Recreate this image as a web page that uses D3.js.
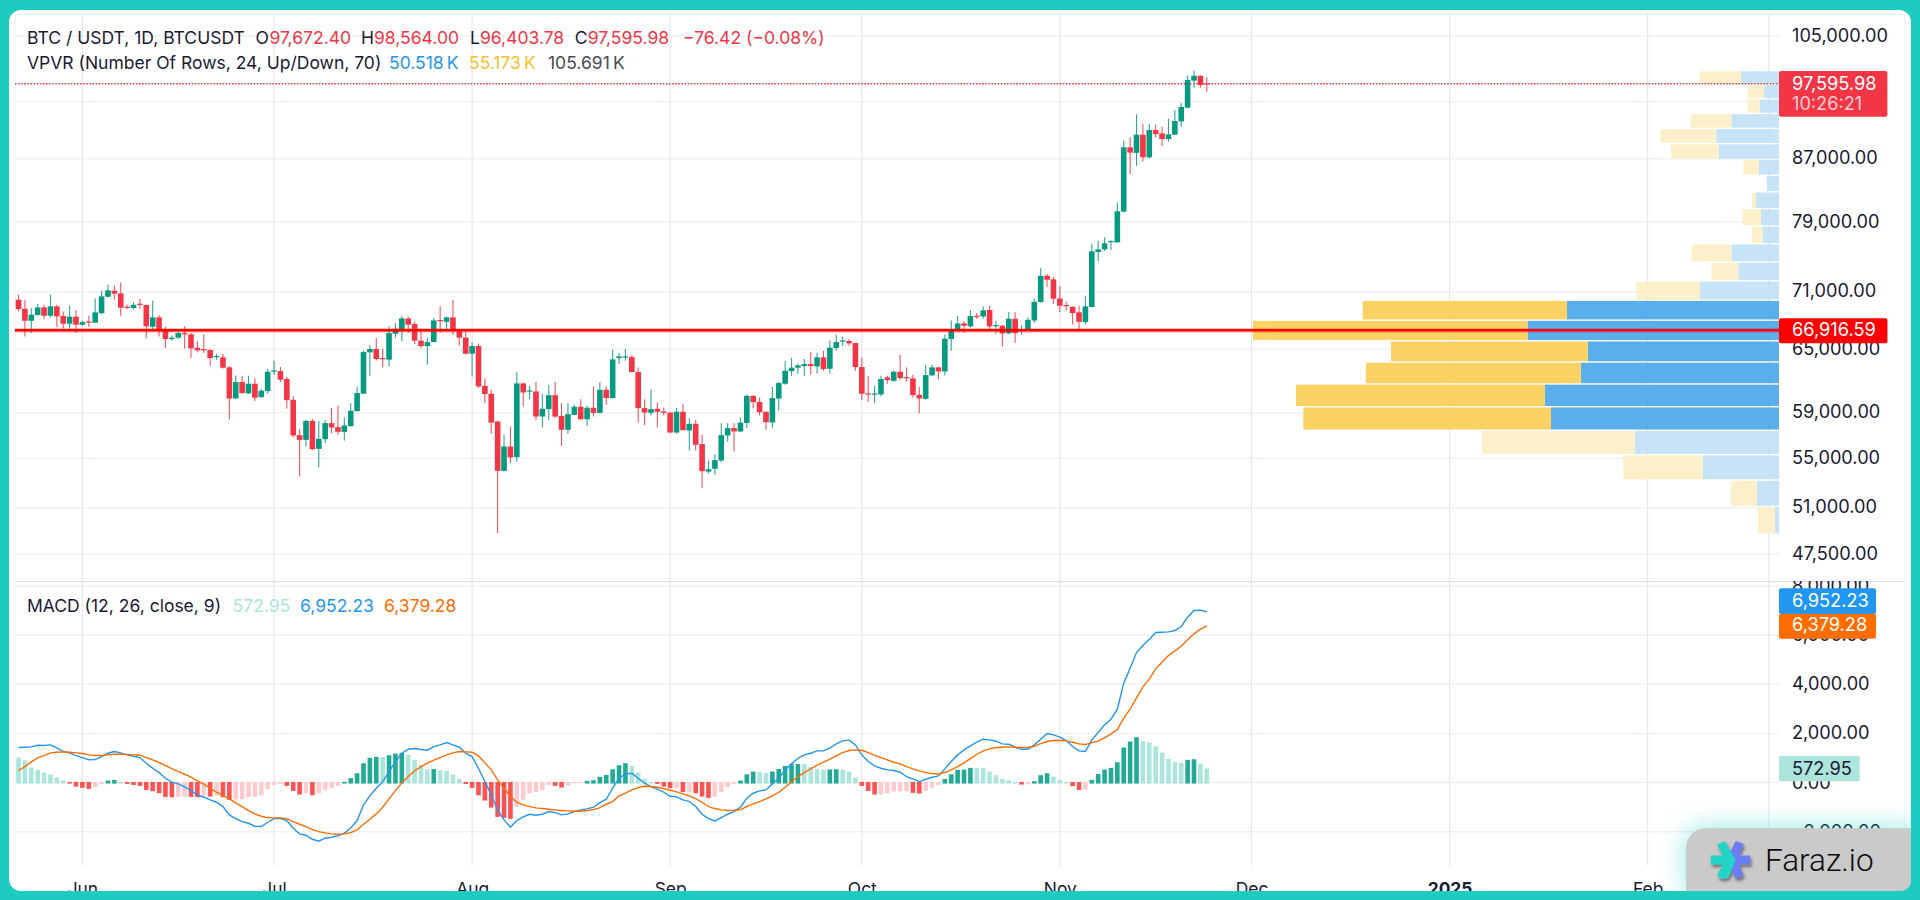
<!DOCTYPE html>
<html><head><meta charset="utf-8">
<style>
html,body{margin:0;padding:0;background:#fff;overflow:hidden}
svg{display:block;font-family:Inter,"Noto Sans",sans-serif}
</style>
<script src="https://cdn.jsdelivr.net/npm/d3@7/dist/d3.min.js"></script>
</head><body><div id="c"></div>
<script>
// ---------- data: daily BTCUSDT candles, 22 May 2024 to 24 Nov 2024 ----------
const firstDay = "2024-05-22";
const open = [70130,69170,67910,68500,69310,68430,69420,68400,67600,68330,67500,67840,67700,68710,70450,71100,70810,69380,69240,69700,69560,67290,68260,66950,66030,66170,66640,66510,65160,65030,64930,64240,64210,63230,60290,61830,60760,61670,60420,60980,62840,62870,62110,60170,57000,56590,58260,55820,56650,58060,57700,57290,57790,59140,60730,64700,65030,64140,63980,66570,67050,68150,67570,65870,65330,65730,67980,67800,68260,66880,66170,64570,65330,61470,60730,58200,53970,56020,55110,61700,60950,60950,58650,59320,60600,58710,57470,58800,59530,58410,59440,58980,61100,60330,64140,64210,64240,62780,59410,58980,59350,59110,59010,57230,59080,57410,58000,56220,53910,54140,54830,56970,57620,57320,58080,60540,59980,59080,58110,60290,61670,62870,63200,63360,63550,63320,64210,63100,65130,65800,65830,65630,63260,60760,60700,60670,62270,61950,62810,62300,62170,60630,60260,62460,63230,62840,66030,67020,67630,67330,68430,68360,69030,67360,67390,66610,68120,66880,66950,67940,69880,72750,72350,70270,69560,69380,68790,67770,69350,75445,75750,76610,76570,80250,88550,87800,90280,87210,90930,90460,89690,90280,92140,94090,98070,98800,97672.40];
const high = [70670,70130,69240,69660,69590,70670,69590,68890,69490,69000,67910,68430,70270,71070,71760,71680,72010,69630,69880,70240,69630,70020,68470,67290,66400,66850,67330,66640,65800,66510,65030,64570,64530,63360,62460,62430,62430,62200,61190,63100,63880,63260,62300,60510,57530,58350,58440,58260,58350,59440,59650,58560,59860,61410,64860,65430,66130,65060,67330,67670,68400,68360,67800,67090,66200,68190,69420,68360,70130,66980,66810,65700,65570,62170,61100,58290,57030,57760,62750,61790,61470,61830,60730,61540,61830,59860,59860,59710,60230,59620,61410,61830,61410,64960,64630,65030,64430,63230,60230,61130,59920,59470,59040,59440,59770,58500,58350,57030,54830,55340,58060,58060,58060,58590,60670,60600,60390,59110,61350,61830,63880,64170,63620,64040,64730,64660,64860,65870,66470,66300,66030,65670,64170,62430,61470,62430,62430,62940,64470,63230,62520,61350,63490,63520,63290,66470,67940,68400,67910,69030,68710,69420,69490,67910,67500,68820,68790,67460,68260,70270,73610,72940,72610,71610,69950,69420,69490,70560,76380,76770,77160,76770,81400,89470,89920,93140,91730,91780,91680,91400,92520,93720,94720,98880,99560,98880,98564.00];
const low = [68890,66300,66640,68470,68080,68260,67260,67120,67090,66640,67390,67260,67670,68570,70380,70130,68430,69140,69100,69170,66100,67050,66300,65100,65870,66070,65060,64140,64700,64630,63390,63980,63130,58380,60260,60730,60700,60050,60360,60730,62520,61830,59380,56790,53510,56020,55710,54270,56310,57170,57030,56540,57760,59110,60700,62430,63910,63230,63320,66200,65800,66640,65500,65130,63490,65700,66710,66980,66470,65360,64500,62360,61260,59860,57120,49050,53940,54610,54750,59560,60230,58290,57670,58350,58500,56080,57120,58770,58350,57820,58650,58920,59710,60290,63550,63880,62750,58090,57880,58740,57670,58740,57200,57140,57410,55650,55680,52560,53750,53640,54690,56420,55590,57290,57620,59380,58740,57470,57620,59170,61570,62400,62620,62430,62550,62650,62900,62650,64860,65360,65360,62900,60170,59980,59860,60480,61670,61860,62050,61860,60360,58950,60170,62430,62080,62460,64860,66810,66670,67190,68080,68120,67050,66570,65260,66540,65630,66440,66880,67670,69840,71500,69700,68790,69000,67530,66980,67530,69310,74400,75560,75670,76530,80170,85010,86060,86640,87040,89920,88690,89330,90240,91400,94000,97020,97020,96403.78];
const close = [69140,67910,68540,69310,68430,69420,68360,67600,68330,67500,67770,67740,68790,70490,71140,70780,69280,69280,69590,69590,67330,68260,66980,66030,66170,66640,66510,65100,64900,64930,64140,64340,63200,60290,61830,60790,61670,60360,61010,62810,62940,62050,60140,56970,56590,58260,55790,56680,58060,57670,57290,57850,59170,60790,64730,65030,64040,64040,66640,67090,68150,67500,65870,65330,65730,67940,67870,68260,66850,66170,64570,65330,61410,60700,58110,53970,56020,55090,61700,60850,61040,58650,59350,60600,58650,57470,58860,59530,58410,59440,58980,61100,60330,64010,64300,64300,62780,59410,59010,59320,59080,58980,57230,59080,57440,58000,56170,53940,54110,54860,57000,57620,57320,58110,60540,59950,59040,58140,60330,61730,62900,63200,63420,63550,63360,64210,63070,65160,65730,65900,65600,63260,60730,60670,60760,62110,62010,62810,62200,62200,60600,60290,62490,63230,62840,66070,67050,67630,67390,68400,68330,69000,67330,67460,66610,68120,66640,66980,68010,69910,72750,72310,70240,69490,69450,68710,67800,69420,75520,75750,76450,76730,80290,88550,87840,90280,87210,90930,90370,89690,90330,92190,94190,98170,98800,97410,97595.98];

// MACD pane, same days
const macdLine = [1425,1438,1452,1520,1506,1533,1411,1262,1208,1099,1018,923,936,1058,1194,1262,1208,1126,1072,1018,787,584,407,176,14,-54,-176,-326,-502,-597,-706,-801,-977,-1316,-1466,-1588,-1656,-1778,-1791,-1615,-1466,-1452,-1547,-1859,-2090,-2144,-2307,-2388,-2266,-2225,-2171,-2063,-1846,-1547,-909,-543,-231,27,448,855,1194,1357,1384,1343,1316,1466,1533,1628,1533,1438,1194,1058,584,41,-502,-1113,-1520,-1818,-1547,-1398,-1289,-1330,-1289,-1181,-1221,-1316,-1276,-1181,-1113,-1072,-1004,-814,-679,-231,176,353,380,176,-27,-163,-271,-394,-556,-584,-706,-773,-977,-1289,-1466,-1561,-1425,-1289,-1181,-1004,-638,-434,-339,-299,-54,176,516,760,991,1126,1194,1289,1289,1398,1574,1696,1737,1533,1126,855,679,584,516,489,421,244,149,41,136,217,271,556,855,1126,1330,1493,1642,1764,1737,1683,1574,1561,1438,1357,1357,1533,1764,1995,1941,1846,1710,1466,1289,1262,1737,2036,2348,2578,2985,4044,4655,5292,5577,5835,6107,6120,6134,6188,6351,6731,7002,7016,6952.23];
const signalLine = [489,651,841,1004,1099,1208,1235,1248,1235,1208,1181,1126,1099,1099,1126,1153,1153,1140,1126,1113,1018,923,814,692,570,448,339,217,68,-68,-231,-394,-529,-665,-828,-977,-1140,-1276,-1371,-1425,-1438,-1438,-1466,-1588,-1696,-1791,-1913,-1995,-2049,-2090,-2103,-2090,-2036,-1927,-1696,-1493,-1276,-1004,-665,-326,-14,244,475,651,787,909,1018,1126,1208,1262,1248,1235,1086,801,516,109,-231,-570,-801,-909,-977,-1031,-1058,-1086,-1113,-1140,-1153,-1167,-1167,-1140,-1099,-1018,-882,-773,-543,-434,-299,-204,-149,-163,-190,-244,-312,-380,-461,-543,-651,-801,-977,-1058,-1113,-1140,-1126,-1099,-977,-868,-773,-665,-543,-394,-190,27,244,407,556,706,828,950,1086,1221,1303,1330,1316,1221,1113,1018,923,828,760,651,556,475,407,366,353,407,516,651,801,977,1153,1289,1371,1425,1438,1452,1438,1425,1425,1479,1588,1669,1710,1723,1696,1642,1574,1547,1628,1683,1818,1981,2158,2619,2985,3447,3895,4207,4627,4899,5170,5360,5550,5808,6052,6242,6379.28];
const histogram = [1018,909,611,516,407,326,204,81,-40,-163,-217,-258,-190,-54,81,109,27,-54,-95,-136,-299,-353,-434,-584,-597,-584,-570,-584,-597,-543,-570,-543,-597,-706,-692,-680,-597,-584,-530,-271,-109,-68,-136,-339,-489,-434,-516,-434,-299,-231,-136,27,176,380,787,1004,1045,1040,1113,1181,1208,1126,923,719,543,550,502,475,326,149,-54,-217,-516,-733,-1018,-1398,-1438,-1479,-991,-706,-434,-380,-299,-109,-136,-204,-122,-27,-20,68,95,231,312,543,706,787,679,407,149,27,-54,-163,-231,-220,-385,-375,-434,-570,-624,-570,-380,-190,-54,81,339,448,440,380,448,556,679,746,752,746,638,556,529,535,540,516,448,204,-136,-339,-489,-482,-434,-366,-360,-353,-421,-448,-339,-217,-95,149,339,516,529,597,590,585,448,299,149,95,27,-81,-75,54,299,380,244,109,27,-149,-299,-290,109,353,529,597,828,1425,1669,1846,1683,1628,1479,1221,963,828,800,923,950,773,572.95];

// Volume profile rows, top to bottom, thousands of BTC
const vpHigh = 99588, vpLow = 49000;
const vpUp =   [7.66,3.05,3.92,9.58,12.62,12.12,4.02,2.43,4.70,3.66,3.32,9.58,8.18,15.87,42.6,50.518,38.42,39.82,47.04,45.81,28.93,15.27,4.42,0.80];
const vpDown = [8.28,3.30,2.43,8.10,11.17,9.58,3.11,0,0.72,3.66,2.11,8.02,5.40,12.78,41.05,55.173,39.54,43.2,50.01,49.77,30.74,16.01,5.24,3.46];
const vpValueArea = [14,15,16,17,18,19];

const priceTicks = [105000,95000,87000,79000,71000,65000,59000,55000,51000,47500];
const macdTicks = [8000,6000,4000,2000,0,-2000];
const timeTicks = ["2024-06-01","2024-07-01","2024-08-01","2024-09-01","2024-10-01","2024-11-01","2024-12-01","2025-01-01","2025-02-01"];
const timeLabels = ["Jun","Jul","Aug","Sep","Oct","Nov","Dec","2025","Feb"];
const extraGridDays = ["2025-02-20"];
const lastPrice = 97595.98, lastMacd = 6952.23, lastSignal = 6379.28, lastHist = 572.95, levelPrice = 66916.59;
const volMax = 105.691;

// ---------- colours ----------
const GREEN="#089981", RED="#f23645", INK="#1a1a33", GRID_H="#f0f1f5", GRID_V="#e6e7ec", TEAL="#1dcbc1";
const AXIS_FONT=18.2, LEG_FONT=17.5;

// ---------- scales ----------
const W=1920,H=900, axisX=1779, paneL=15, paneR=1905;
const parse=d3.utcParse("%Y-%m-%d");
const x=d3.scaleUtc().domain([parse("2024-06-01"),parse("2025-02-01")]).range([82.4,1647.6]);
const y=d3.scaleLog().domain([105000,47500]).range([36,554.3]);
const y2=d3.scaleLinear().domain([8000,-2000]).range([586,831.7]);
const vx=d3.scaleLinear().domain([0,volMax]).range([axisX,1253]);
const days=open.map((_,i)=>d3.utcDay.offset(parse(firstDay),i));
const fmt=d3.format(",.2f");

const svg=d3.select("#c").append("svg").attr("width",W).attr("height",H).attr("viewBox",`0 0 ${W} ${H}`);
const defs=svg.append("defs");
defs.append("filter").attr("id","glow").attr("x","-30%").attr("y","-80%").attr("width","160%").attr("height","260%")
  .append("feGaussianBlur").attr("stdDeviation",13);
defs.append("filter").attr("id","ls").attr("x","-30%").attr("y","-30%").attr("width","170%").attr("height","170%")
  .append("feDropShadow").attr("dx",1.5).attr("dy",2.5).attr("stdDeviation",1.6).attr("flood-color","#000").attr("flood-opacity",.45);

svg.append("rect").attr("width",W).attr("height",H).attr("fill","#fff");

// pane borders
const borders=svg.append("g").attr("stroke","#f1f3f8").attr("stroke-width",1.2);
borders.append("line").attr("x1",paneL).attr("x2",paneL).attr("y1",14).attr("y2",891);
borders.append("line").attr("x1",paneR).attr("x2",paneR).attr("y1",14).attr("y2",891);
borders.append("line").attr("x1",paneL).attr("x2",paneR).attr("y1",14.3).attr("y2",14.3);

// grid
const g=svg.append("g");
g.selectAll(".hp").data(priceTicks).join("line").attr("class","hp").attr("x1",paneL).attr("x2",axisX).attr("y1",d=>y(d)).attr("y2",d=>y(d)).attr("stroke",GRID_H).attr("stroke-width",1.5);
g.selectAll(".hm").data(macdTicks).join("line").attr("class","hm").attr("x1",paneL).attr("x2",axisX).attr("y1",d=>y2(d)).attr("y2",d=>y2(d)).attr("stroke",GRID_H).attr("stroke-width",1.5);
g.selectAll(".v").data(timeTicks.concat(extraGridDays)).join("line").attr("class","v").attr("x1",d=>x(parse(d))).attr("x2",d=>x(parse(d))).attr("y1",14).attr("y2",865.5).attr("stroke",GRID_V).attr("stroke-width",1.2);
g.append("line").attr("x1",paneL).attr("x2",paneR).attr("y1",581.7).attr("y2",581.7).attr("stroke","#dfe1ea").attr("stroke-width",1.2);

// axes (drawn under the tags)
defs.append("clipPath").attr("id","macdClip").append("rect").attr("x",0).attr("y",581).attr("width",140).attr("height",320);
const yAxis=svg.append("g").attr("transform",`translate(${axisX},0)`)
  .call(d3.axisRight(y).tickValues(priceTicks).tickFormat(fmt).tickSize(0).tickPadding(13));
const y2Axis=svg.append("g").attr("transform",`translate(${axisX},0)`).attr("clip-path","url(#macdClip)")
  .call(d3.axisRight(y2).tickValues(macdTicks).tickFormat(fmt).tickSize(0).tickPadding(13));
const xAxis=svg.append("g").attr("transform","translate(0,894.5)")
  .call(d3.axisBottom(x).tickValues(timeTicks.map(parse)).tickFormat((d,i)=>timeLabels[i]).tickSize(0));
[yAxis,y2Axis,xAxis].forEach(a=>{a.select(".domain").remove();
  a.selectAll("text").attr("font-family","Inter,'Noto Sans',sans-serif").attr("font-size",AXIS_FONT).attr("fill",INK);});
yAxis.selectAll("text").attr("dy","0.28em");
y2Axis.selectAll("text").attr("dy","0.3em");
xAxis.selectAll("text").attr("font-size",17.4).attr("y",0).attr("dy",0).attr("font-weight",(d,i)=>timeLabels[i]==="2025"?700:400);

// volume profile
const vpStep=(vpHigh-vpLow)/vpUp.length;
const vpRows=vpUp.map((u,i)=>({u,d:vpDown[i],va:vpValueArea.includes(i),top:vpHigh-i*vpStep,bot:vpHigh-(i+1)*vpStep}));
const vp=svg.append("g").attr("opacity",.93);
vp.selectAll(".up").data(vpRows).join("rect").attr("class","up").attr("x",d=>vx(d.u)).attr("width",d=>axisX-vx(d.u))
  .attr("y",d=>y(d.top)+.7).attr("height",d=>y(d.bot)-y(d.top)-1.4).attr("fill",d=>d.va?"#4ea8e9":"#c3e2f7");
vp.selectAll(".dn").data(vpRows).join("rect").attr("class","dn").attr("x",d=>vx(d.u+d.d)).attr("width",d=>vx(d.u)-vx(d.u+d.d))
  .attr("y",d=>y(d.top)+.7).attr("height",d=>y(d.bot)-y(d.top)-1.4).attr("fill",d=>d.va?"#facf59":"#fdeec5");

// last price dotted line
svg.append("line").attr("x1",paneL).attr("x2",axisX).attr("y1",y(lastPrice)).attr("y2",y(lastPrice))
  .attr("stroke",RED).attr("stroke-width",1.5).attr("stroke-dasharray","1.5 1.6");

// candles
defs.append("clipPath").attr("id","pane").append("rect").attr("x",paneL).attr("y",14).attr("width",axisX-paneL).attr("height",852);
const cs=open.map((o,i)=>({o,h:high[i],l:low[i],c:close[i],m:macdLine[i],s:signalLine[i],v:histogram[i],day:days[i],prev:i?histogram[i-1]:Infinity}));
const colorOf=d=>d.c>=d.o?GREEN:RED;
const candles=svg.append("g").attr("clip-path","url(#pane)");
candles.selectAll(".w").data(cs).join("line").attr("class","w").attr("x1",d=>x(d.day)).attr("x2",d=>x(d.day))
  .attr("y1",d=>y(d.h)).attr("y2",d=>y(d.l)).attr("stroke",colorOf).attr("stroke-width",1.1).attr("stroke-opacity",.85);
candles.selectAll(".b").data(cs).join("rect").attr("class","b").attr("x",d=>x(d.day)-2.8).attr("width",5.6)
  .attr("y",d=>y(Math.max(d.o,d.c))).attr("height",d=>Math.max(1.2,y(Math.min(d.o,d.c))-y(Math.max(d.o,d.c)))).attr("fill",colorOf);

// red level line
svg.append("line").attr("x1",paneL).attr("x2",axisX).attr("y1",y(levelPrice)).attr("y2",y(levelPrice)).attr("stroke","#ff0000").attr("stroke-opacity",.3).attr("stroke-width",4.2);
svg.append("line").attr("x1",paneL).attr("x2",axisX).attr("y1",y(levelPrice)).attr("y2",y(levelPrice)).attr("stroke","#ff0000").attr("stroke-width",2.5);

// histogram
const histColor=d=>d.v>=0?(d.v>d.prev?"#22ab94":"#ace5dc"):(d.v<d.prev?"#ff5252":"#fccbcd");
candles.selectAll(".h").data(cs).join("rect").attr("class","h").attr("x",d=>x(d.day)-2.3).attr("width",4.6)
  .attr("y",d=>d.v>=0?y2(d.v):y2(0)-.6)
  .attr("height",d=>d.v>=0?y2(0)-y2(d.v)+1:y2(d.v)-y2(0)+.6).attr("fill",histColor);
// macd lines
const line=k=>d3.line().x(d=>x(d.day)).y(d=>y2(d[k]));
candles.append("path").datum(cs).attr("d",line("m")).attr("fill","none").attr("stroke","#2196f3").attr("stroke-width",1.4);
candles.append("path").datum(cs).attr("d",line("s")).attr("fill","none").attr("stroke","#ff6d00").attr("stroke-width",1.4);

// tags
function tag(y0,y1,right,fill){svg.append("rect").attr("x",axisX).attr("y",y0).attr("width",right-axisX).attr("height",y1-y0).attr("fill",fill).attr("rx",2);}
function txt(t,px,py,fill,size,extra){const e=svg.append("text").attr("x",px).attr("y",py).attr("fill",fill).attr("font-size",size).text(t);if(extra)extra(e);return e;}
tag(71,116.7,1887.4,RED);
txt(fmt(lastPrice),1792,89.7,"#fff",AXIS_FONT);
txt("10:26:21",1792,110.2,"#fff",AXIS_FONT,e=>e.attr("fill-opacity",.75));
tag(318.3,343.3,1887.4,"#ff0000");
txt(fmt(levelPrice),1792,336.4,"#fff",AXIS_FONT);
tag(588.3,614,1876,"#2196f3");
txt(fmt(lastMacd),1792,607,"#fff",AXIS_FONT);
tag(613.7,638.7,1876,"#ff6d00");
txt(fmt(lastSignal),1792,631.4,"#fff",AXIS_FONT);
tag(756,781.3,1859.7,"#ace5dc");
txt(fmt(lastHist),1792,775,INK,AXIS_FONT);

// legends
const legend=[
 ["BTC / USDT, 1D, BTCUSDT",27,44,INK],["O",255.5,44,INK],["97,672.40",269.4,44,RED],["H",361,44,INK],["98,564.00",374,44,RED],
 ["L",470,44,INK],["96,403.78",480,44,RED],["C",574.7,44,INK],["97,595.98",587.8,44,RED],["\u221276.42 (\u22120.08%)",683,44,RED],
 ["VPVR (Number Of Rows, 24, Up/Down, 70)",27,69,INK],["50.518\u2009K",389,69,"#2196f3"],["55.173\u2009K",469,69,"#fbc02d"],["105.691\u2009K",548,69,"#4a4a4f"],
 ["MACD (12, 26, close, 9)",27,611.5,INK],["572.95",232.6,611.5,"#ace5dc"],["6,952.23",300,611.5,"#2196f3"],["6,379.28",384,611.5,"#ff6d00"]];
legend.forEach(d=>txt(d[0],d[1],d[2],d[3],LEG_FONT));

// frame, over the clipped time labels
svg.append("path").attr("fill-rule","evenodd").attr("fill",TEAL)
 .attr("d",`M0 0H${W}V${H}H0Z M21 10H1899A12 12 0 0 1 1911 22V879A12 12 0 0 1 1899 891H21A12 12 0 0 1 9 879V22A12 12 0 0 1 21 10Z`);

// watermark
defs.append("clipPath").attr("id","wmclip").append("rect").attr("x",9).attr("y",10).attr("width",1902).attr("height",881);
svg.append("g").attr("clip-path","url(#wmclip)").append("rect").attr("x",1686).attr("y",828).attr("width",240).attr("height",70)
  .attr("rx",16).attr("fill",TEAL).attr("fill-opacity",.42).attr("filter","url(#glow)");
svg.append("path").attr("fill","#cacaca").attr("d","M1686 891V848A20 20 0 0 1 1706 828.3H1911V881A10 10 0 0 1 1901 891Z");
const logo=svg.append("g").attr("transform","translate(1730.7,860)").attr("filter","url(#ls)");
logo.append("path").attr("fill","#6a7df2").attr("d","M5-19L13-16L8-4.5H19.5V4.5H8L13 16L5 19L-2 5L5 0L-2-5Z");
logo.append("path").attr("fill","#20d3c6").attr("d","M-13.5-15.5L-6-19L5 0L-2.5 18L-10 19L-13.5 15.5L-8 4.5H-20V-4.5H-8Z");
txt("Faraz.io",1765,871,"#0c0c0c",31.5,e=>e.attr("font-weight",300).attr("font-family","Roboto,Inter,sans-serif"));
</script></body></html>
